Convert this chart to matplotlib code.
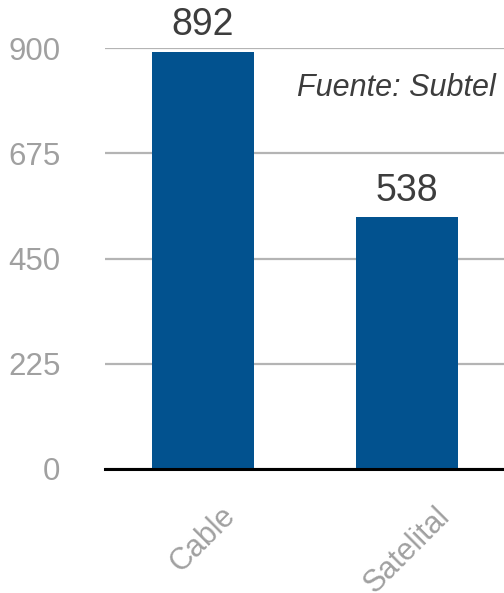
import matplotlib.pyplot as plt

plt.rcParams["font.family"] = ["Liberation Sans", "DejaVu Sans"]

categories = ["Cable", "Satelital"]
values = [892, 538]
y_ticks = [0, 225, 450, 675, 900]

fig = plt.figure(figsize=(5.04, 5.93), dpi=100)
ax = fig.add_axes([105 / 504, 124 / 593, 399 / 504, 421 / 593])

x = range(len(categories))
bars = ax.bar(x, values, width=0.5, color="#02528f", zorder=3)

for b, v in zip(bars, values):
    ax.text(b.get_x() + b.get_width() / 2, v + 18, str(v), ha="center", va="bottom",
            fontsize=27, color="#3d3d3d", clip_on=False)

ax.set_xlim(-0.48, 1.476)
ax.set_ylim(0, 900)
ax.set_yticks(y_ticks)
ax.set_yticklabels([str(t) for t in y_ticks])
ax.grid(axis="y", color="#b4b4b4", linewidth=1.6, zorder=0)
ax.set_axisbelow(True)

for s in ["top", "right", "left"]:
    ax.spines[s].set_visible(False)
ax.spines["bottom"].set_color("black")
ax.spines["bottom"].set_linewidth(2.2)
ax.spines["bottom"].set_zorder(4)

ax.tick_params(axis="y", length=0, pad=32, labelsize=22.5, labelcolor="#a0a0a0")
ax.tick_params(axis="x", length=0, pad=23, labelsize=22, labelcolor="#a0a0a0")
ax.set_xticks(list(x))
ax.set_xticklabels(categories, rotation=45, ha="center", va="top")

ax.text(0.98, 0.905, "Fuente: Subtel", transform=ax.transAxes, ha="right", va="center",
        fontsize=22, style="italic", color="#3d3d3d")

fig.savefig("out.png", dpi=100)
